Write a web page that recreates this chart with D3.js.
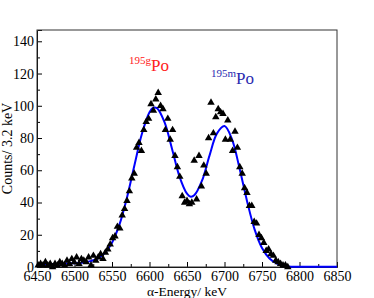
<!DOCTYPE html>
<html>
<head>
<meta charset="utf-8">
<script src="https://cdn.jsdelivr.net/npm/d3@7"></script>
<style>
  body { margin: 0; background: #fff; }
  svg text { font-family: "Liberation Serif", "DejaVu Serif", serif; }
</style>
</head>
<body>
<div class="chart"></div>
<script>
// measured spectrum, 3.2 keV bins
const energies = [
  6451.6, 6454.8, 6458.0, 6461.2, 6464.4, 6467.6, 6470.8, 6474.0, 6477.2, 6480.4,
  6483.6, 6486.8, 6490.0, 6493.2, 6496.4, 6499.6, 6502.8, 6506.0, 6509.2, 6512.4,
  6515.6, 6518.8, 6522.0, 6525.2, 6528.4, 6531.6, 6534.8, 6538.0, 6541.2, 6544.4,
  6547.6, 6550.8, 6554.0, 6557.2, 6560.4, 6563.6, 6566.8, 6570.0, 6573.2, 6576.4,
  6579.6, 6582.8, 6586.0, 6589.2, 6592.4, 6595.6, 6598.8, 6602.0, 6605.2, 6608.4,
  6611.6, 6614.8, 6618.0, 6621.2, 6624.4, 6627.6, 6630.8, 6634.0, 6637.2, 6640.4,
  6643.6, 6646.8, 6650.0, 6653.2, 6656.4, 6659.6, 6662.8, 6666.0, 6669.2, 6672.4,
  6675.6, 6678.8, 6682.0, 6685.2, 6688.4, 6691.6, 6694.8, 6698.0, 6701.2, 6704.4,
  6707.6, 6710.8, 6714.0, 6717.2, 6720.4, 6723.6, 6726.8, 6730.0, 6733.2, 6736.4,
  6739.6, 6742.8, 6746.0, 6749.2, 6752.4, 6755.6, 6758.8, 6762.0, 6765.2, 6768.4,
  6771.6, 6774.8, 6778.0, 6781.2, 6784.4
];
const counts = [
  1, 2, 1, 3, 1, 2, 0, 2, 1, 3,
  2, 1, 4, 2, 5, 3, 6, 2, 5, 4,
  3, 6, 1, 7, 4, 6, 8, 5, 9, 11,
  14, 18, 19, 25, 24, 32, 36, 41, 47, 55,
  58, 74, 77, 72, 85, 90, 92, 101, 97, 104,
  108, 100, 98, 85, 92, 79, 85, 69, 62, 56,
  44, 40, 41, 39, 40, 66, 42, 69, 50, 63,
  58, 80, 102, 83, 93, 98, 96, 95, 79, 91,
  79, 72, 84, 74, 62, 58, 49, 46, 38, 38,
  28, 27, 20, 18, 15, 10, 11, 8, 7, 4,
  3, 2, 1, 1, 0
];

// fitted curve (two alpha lines)
const fitEnergies = [
  6450, 6460, 6470, 6480, 6490, 6500, 6510, 6520, 6530, 6540,
  6550, 6560, 6570, 6580, 6590, 6600, 6605, 6610, 6620, 6630,
  6640, 6650, 6655, 6660, 6670, 6680, 6690, 6700, 6710, 6720, 6730,
  6740, 6750, 6760, 6770, 6780, 6790, 6800, 6810, 6820, 6830,
  6840, 6850
];
const fitCounts = [
  1.5, 1.7, 1.8, 2.0, 2.2, 2.4, 2.7, 3.5, 5.0, 8.5,
  15.1, 26.4, 43.1, 63.3, 82.8, 96.0, 98.8, 98.5, 89.8, 73.4,
  56.1, 45.5, 43.6, 44.6, 53.5, 69.1, 82.9, 87.4, 79.2, 61.3, 41.0,
  23.5, 11.8, 5.3, 2.1, 0.7, 0.2, 0.1, 0.1, 0.1, 0.1,
  0.1, 0.1
];

const xTicks = [6450, 6500, 6550, 6600, 6650, 6700, 6750, 6800, 6850];
const yTicks = [0, 20, 40, 60, 80, 100, 120, 140];

const width = 374, height = 298;
const margin = {top: 30, right: 37, bottom: 31, left: 37};
const serif = '"Liberation Serif", "DejaVu Serif", serif';

const svg = d3.select(".chart")
    .append("svg")
    .attr("width", width)
    .attr("height", height);

const x = d3.scaleLinear()
    .domain([6450, 6850])
    .range([margin.left, width - margin.right]);

const y = d3.scaleLinear()
    .domain([0, 147])
    .range([height - margin.bottom, margin.top]);

// minor ticks
const xMinor = d3.range(6475, 6850, 50);
const yMinor = d3.range(10, 147, 20);

svg.append("g")
    .attr("transform", `translate(0,${y(0)})`)
    .call(d3.axisBottom(x).tickValues(xMinor).tickSize(-3).tickFormat(""))
    .call(g => g.select(".domain").remove());

svg.append("g")
    .attr("transform", `translate(${x(6450)},0)`)
    .call(d3.axisLeft(y).tickValues(yMinor).tickSize(-3).tickFormat(""))
    .call(g => g.select(".domain").remove());

// major axes
const xAxis = svg.append("g")
    .attr("transform", `translate(0,${y(0)})`)
    .call(d3.axisBottom(x).tickValues(xTicks).tickSize(-5).tickPadding(4).tickFormat(d3.format("d")));

const yAxis = svg.append("g")
    .attr("transform", `translate(${x(6450)},0)`)
    .call(d3.axisLeft(y).tickValues(yTicks).tickSize(-5).tickPadding(3).tickFormat(d3.format("d")));

[xAxis, yAxis].forEach(g => {
    g.attr("font-family", serif).attr("font-size", 14);
    g.selectAll("text").attr("fill", "#000");
    g.selectAll("line").attr("stroke", "#000");
    g.select(".domain").attr("stroke", "#000");
});

// box
svg.append("rect")
    .attr("x", x(6450))
    .attr("y", y(147))
    .attr("width", x(6850) - x(6450))
    .attr("height", y(0) - y(147))
    .attr("fill", "none")
    .attr("stroke", "#333")
    .attr("stroke-width", 1);

// fit line
svg.append("path")
    .datum(fitEnergies.map((e, i) => [e, fitCounts[i]]))
    .attr("fill", "none")
    .attr("stroke", "#0000ff")
    .attr("stroke-width", 2)
    .attr("d", d3.line()
        .x(d => x(d[0]))
        .y(d => y(d[1]))
        .curve(d3.curveCatmullRom));

// data triangles
const tri = d3.symbol().type(d3.symbolTriangle).size(24);

svg.selectAll(".pt")
    .data(energies.map((e, i) => [e, counts[i]]))
    .enter()
    .append("path")
    .attr("class", "pt")
    .attr("transform", d => `translate(${x(d[0])},${y(d[1])})`)
    .attr("d", tri)
    .attr("fill", "#000");

// axis titles
svg.append("text")
    .attr("x", (x(6450) + x(6850)) / 2)
    .attr("y", 296)
    .attr("text-anchor", "middle")
    .attr("font-family", serif)
    .style("font-size", "13.5px")
    .text("α-Energy/ keV");

svg.append("text")
    .attr("transform", `translate(12,${(y(0) + y(147)) / 2}) rotate(-90)`)
    .attr("text-anchor", "middle")
    .attr("font-family", serif)
    .style("font-size", "14px")
    .text("Counts/ 3.2 keV");

// isotope labels
const lab1 = svg.append("text")
    .attr("x", 129)
    .attr("y", 71)
    .attr("font-family", serif)
    .attr("fill", "#ff2020");
lab1.append("tspan").attr("dy", -7).style("font-size", "11px").text("195g");
lab1.append("tspan").attr("dy", 7).style("font-size", "17px").text("Po");

const lab2 = svg.append("text")
    .attr("x", 211)
    .attr("y", 84)
    .attr("font-family", serif)
    .attr("fill", "#2a2ab0");
lab2.append("tspan").attr("dy", -7).style("font-size", "11px").text("195m");
lab2.append("tspan").attr("dy", 7).style("font-size", "17px").text("Po");
</script>
</body>
</html>
